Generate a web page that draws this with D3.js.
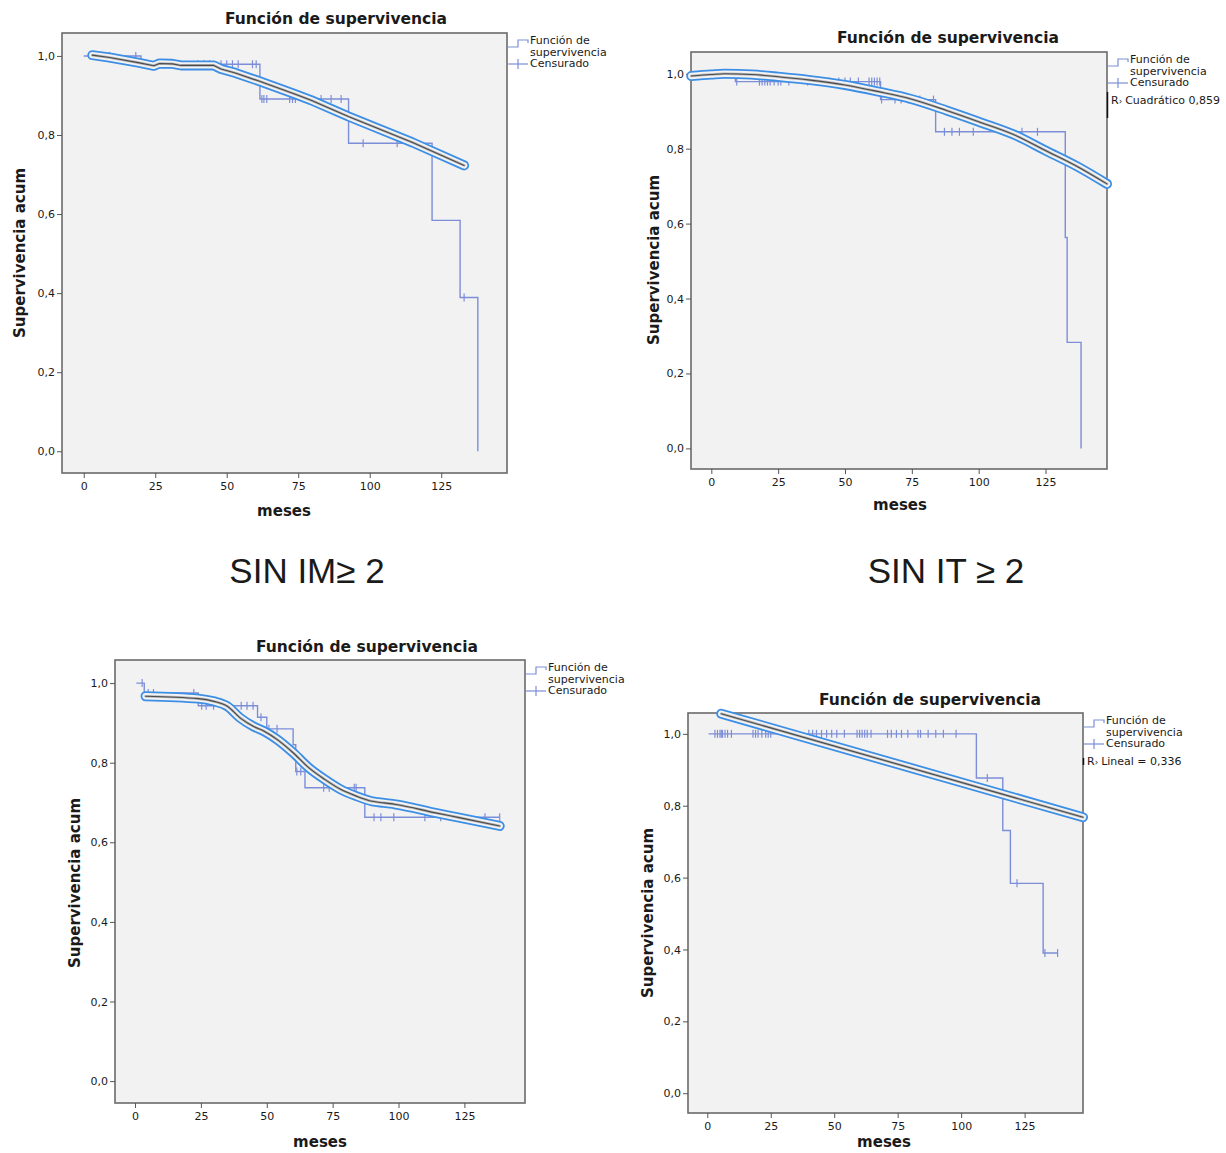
<!DOCTYPE html>
<html>
<head>
<meta charset="utf-8">
<script src="https://cdn.jsdelivr.net/npm/d3@7"></script>
<style>
  body { margin: 0; background: #fff; }
  svg { display: block; }
  text { font-family: 'DejaVu Sans', sans-serif; fill: #1a1a1a; }
</style>
</head>
<body>
<svg id="chart" width="1226" height="1153"></svg>
<script>
// Axis ticks (shared by the four panels)
const X_TICKS = [0, 25, 50, 75, 100, 125];
const Y_TICKS = [0, 0.2, 0.4, 0.6, 0.8, 1.0];

// Panel 1 (arriba izquierda)
const km1Time = [0, 20, 61.6, 92.6, 121.8, 131.6, 137.8];
const km1Surv = [1.0, 0.979, 0.891, 0.779, 0.584, 0.389, 0.0];
const cens1 = [4, 5, 6, 7, 9, 18.2, 28, 30, 40, 42, 44, 48, 50, 52, 54, 59, 60.3,
  62.3, 63, 64, 72, 73, 74, 79.6, 83, 86.5, 90, 97.7, 109.6, 133];
const fit1Time = [3, 9, 19, 24.5, 26.5, 31, 34, 45.5, 48, 53, 61, 74, 79.5, 92.5, 115, 133];
const fit1Surv = [1.002, 0.996, 0.983, 0.975, 0.981, 0.980, 0.976, 0.976, 0.967, 0.957,
  0.937, 0.903, 0.888, 0.847, 0.781, 0.723];

// Panel 2 (arriba derecha)
const km2Time = [0, 9, 63.3, 83.9, 132.4, 133.1, 138.3];
const km2Surv = [1.0, 0.979, 0.931, 0.845, 0.563, 0.283, 0.0];
const cens2 = [3.5, 4.5, 5.5, 6.5, 7.5, 9.5, 18, 19, 20, 21, 22, 23.5, 25, 26, 29, 36, 40,
  44, 47.7, 50, 52, 55, 59, 60, 61, 62, 63, 63.7, 68.7, 71, 73.7, 78, 83.1, 87.2, 90,
  92.8, 98, 116.2, 122];
const fit2Time = [-7.5, 0, 5, 15, 25, 37, 50, 62, 75, 88, 100, 113, 125, 137, 148];
const fit2Surv = [0.994, 0.998, 1.0, 0.998, 0.992, 0.983, 0.970, 0.953, 0.932, 0.902,
  0.872, 0.838, 0.795, 0.752, 0.706];

// Panel 3 (abajo izquierda)
const km3Time = [0.5, 3.5, 24, 46.5, 50, 60, 61, 64.5, 87.2, 138.4];
const km3Surv = [1.0, 0.975, 0.943, 0.914, 0.885, 0.845, 0.778, 0.737, 0.663, 0.663];
const cens3 = [2.7, 5, 7, 22.3, 25.3, 27, 29.8, 40.3, 42.5, 44.8, 47.8, 50.8, 53.9, 61.4,
  62.9, 71.6, 73.7, 83.2, 83.9, 90.7, 93.3, 98.2, 110, 116, 132.8, 138.4];
const fit3Time = [4, 24, 30, 35, 40, 45, 49, 54, 60, 66, 72, 78, 84, 90, 94.5, 99, 114, 123, 138.4];
const fit3Surv = [0.967, 0.961, 0.954, 0.942, 0.912, 0.891, 0.879, 0.858, 0.825, 0.787,
  0.758, 0.733, 0.716, 0.703, 0.699, 0.695, 0.674, 0.662, 0.641];

// Panel 4 (abajo derecha)
const km4Time = [0.5, 106, 116.4, 119.4, 132.3, 138];
const km4Surv = [1.0, 0.877, 0.731, 0.584, 0.39, 0.39];
const cens4 = [3, 4, 5, 5.5, 6, 7, 8, 9.5, 18, 19, 20, 21.5, 23, 24, 25, 40, 41.5, 43, 45,
  47, 49, 51, 54, 59, 60, 61, 62, 63, 64.5, 71, 72.5, 74.5, 76.5, 79, 83, 84, 87, 90, 93,
  98, 110.3, 122, 133, 138];
const fit4Time = [5.5, 148];
const fit4Surv = [1.056, 0.768];

// Style
const X_DOMAIN = [-7.6, 148];
const Y_DOMAIN = [-0.055, 1.058];
const KM_COLOR = '#7d8ed8';
const FRAME_COLOR = '#6a6a6a';
const PLOT_BG = '#f2f2f2';
const fmtY = d => d3.format('.1f')(d).replace('.', ',');

const svg = d3.select('#chart');

const panels = [
  {
    box: { left: 62, right: 507, top: 33, bottom: 473 },
    kmTime: km1Time, kmSurv: km1Surv, cens: cens1,
    fitTime: fit1Time, fitSurv: fit1Surv, curve: d3.curveLinear,
    title: [336, 24], yLabel: [25, 253], xLabel: [284, 516]
  },
  {
    box: { left: 691, right: 1107, top: 52, bottom: 469 },
    kmTime: km2Time, kmSurv: km2Surv, cens: cens2,
    fitTime: fit2Time, fitSurv: fit2Surv, curve: d3.curveMonotoneX,
    title: [948, 43], yLabel: [659, 260], xLabel: [900, 510],
    fitNote: 'Cuadrático 0,859', noteBar: [40, 66]
  },
  {
    box: { left: 115, right: 525, top: 660, bottom: 1103 },
    kmTime: km3Time, kmSurv: km3Surv, cens: cens3,
    fitTime: fit3Time, fitSurv: fit3Surv, curve: d3.curveMonotoneX,
    title: [367, 652], yLabel: [80, 883], xLabel: [320, 1147]
  },
  {
    box: { left: 688, right: 1083, top: 713, bottom: 1113 },
    kmTime: km4Time, kmSurv: km4Surv, cens: cens4,
    fitTime: fit4Time, fitSurv: fit4Surv, curve: d3.curveLinear,
    title: [930, 705], yLabel: [653, 913], xLabel: [884, 1147],
    fitNote: 'Lineal = 0,336', noteBar: [45, 52]
  }
];

panels.forEach(drawPanel);

// Group captions between the rows
svg.append('text')
  .attr('x', 307).attr('y', 583)
  .attr('text-anchor', 'middle')
  .style('font-family', "'Liberation Sans', Arial, sans-serif")
  .style('font-size', '35px')
  .text('SIN IM≥ 2');

svg.append('text')
  .attr('x', 946).attr('y', 583)
  .attr('text-anchor', 'middle')
  .style('font-family', "'Liberation Sans', Arial, sans-serif")
  .style('font-size', '35px')
  .text('SIN IT ≥ 2');

function drawPanel(p) {
  const b = p.box;
  const x = d3.scaleLinear().domain(X_DOMAIN).range([b.left, b.right]);
  const y = d3.scaleLinear().domain(Y_DOMAIN).range([b.bottom, b.top]);
  const g = svg.append('g');

  // Plot frame
  g.append('rect')
    .attr('x', b.left).attr('y', b.top)
    .attr('width', b.right - b.left).attr('height', b.bottom - b.top)
    .attr('fill', PLOT_BG)
    .attr('stroke', FRAME_COLOR)
    .attr('stroke-width', 1.6);

  // Axes
  g.append('g')
    .attr('transform', `translate(${b.left},0)`)
    .call(d3.axisLeft(y).tickValues(Y_TICKS).tickSize(5).tickPadding(2).tickFormat(fmtY))
    .call(a => a.select('.domain').remove())
    .call(a => a.selectAll('.tick line').attr('stroke', '#555'))
    .call(a => a.selectAll('.tick text').style('font-size', '11px').attr('fill', '#222'));

  g.append('g')
    .attr('transform', `translate(0,${b.bottom})`)
    .call(d3.axisBottom(x).tickValues(X_TICKS).tickSize(5).tickPadding(4))
    .call(a => a.select('.domain').remove())
    .call(a => a.selectAll('.tick line').attr('stroke', '#555'))
    .call(a => a.selectAll('.tick text').style('font-size', '11px').attr('fill', '#222'));

  // Kaplan-Meier step line
  const km = p.kmTime.map((t, i) => [t, p.kmSurv[i]]);
  g.append('path')
    .datum(km)
    .attr('d', d3.line().x(d => x(d[0])).y(d => y(d[1])).curve(d3.curveStepAfter))
    .attr('fill', 'none')
    .attr('stroke', KM_COLOR)
    .attr('stroke-width', 1.4);

  // Censored marks sit on the step line
  const survAt = t => {
    let s = p.kmSurv[0];
    p.kmTime.forEach((kt, i) => { if (kt <= t) s = p.kmSurv[i]; });
    return s;
  };
  g.selectAll('.cens')
    .data(p.cens)
    .join('line')
    .attr('class', 'cens')
    .attr('x1', d => x(d)).attr('x2', d => x(d))
    .attr('y1', d => y(survAt(d)) - 4)
    .attr('y2', d => y(survAt(d)) + 4)
    .attr('stroke', KM_COLOR)
    .attr('stroke-width', 1.2);

  // Fitted (selected) line: blue outline, light core, thin dark centre
  const fit = p.fitTime.map((t, i) => [t, p.fitSurv[i]]);
  const fitLine = d3.line().x(d => x(d[0])).y(d => y(d[1])).curve(p.curve);
  [['#3d8fe6', 10], ['#f3f3f3', 6.4], ['#b5b5b5', 2.6], ['#4a4a4a', 1.1]].forEach(([c, w]) => {
    g.append('path')
      .datum(fit)
      .attr('d', fitLine)
      .attr('fill', 'none')
      .attr('stroke', c)
      .attr('stroke-width', w)
      .attr('stroke-linecap', 'round')
      .attr('stroke-linejoin', 'round');
  });

  // Titles
  g.append('text')
    .attr('x', p.title[0]).attr('y', p.title[1])
    .attr('text-anchor', 'middle')
    .style('font-size', '15.5px').style('font-weight', 'bold')
    .text('Función de supervivencia');

  g.append('text')
    .attr('transform', `translate(${p.yLabel[0]},${p.yLabel[1]}) rotate(-90)`)
    .attr('text-anchor', 'middle')
    .style('font-size', '15px').style('font-weight', 'bold')
    .text('Supervivencia acum');

  g.append('text')
    .attr('x', p.xLabel[0]).attr('y', p.xLabel[1])
    .attr('text-anchor', 'middle')
    .style('font-size', '15px').style('font-weight', 'bold')
    .text('meses');

  // Legend
  const lx = b.right + 1;
  g.append('path')
    .attr('d', `M${lx},${b.top + 14}H${lx + 10}V${b.top + 7}H${lx + 20}V${b.top + 10}`)
    .attr('fill', 'none').attr('stroke', KM_COLOR).attr('stroke-width', 1.2);
  g.append('line')
    .attr('x1', lx).attr('x2', lx + 20)
    .attr('y1', b.top + 31).attr('y2', b.top + 31)
    .attr('stroke', KM_COLOR).attr('stroke-width', 1.2);
  g.append('line')
    .attr('x1', lx + 10).attr('x2', lx + 10)
    .attr('y1', b.top + 26).attr('y2', b.top + 36)
    .attr('stroke', KM_COLOR).attr('stroke-width', 1.2);

  ['Función de', 'supervivencia', 'Censurado'].forEach((s, i) => {
    g.append('text')
      .attr('x', lx + 22).attr('y', b.top + 11 + i * 11.5)
      .style('font-size', '11px')
      .text(s);
  });

  if (p.fitNote) {
    g.append('line')
      .attr('x1', b.right + 0.5).attr('x2', b.right + 0.5)
      .attr('y1', b.top + p.noteBar[0]).attr('y2', b.top + p.noteBar[1])
      .attr('stroke', '#111').attr('stroke-width', 1.5);
    const t = g.append('text')
      .attr('x', b.right + 4).attr('y', b.top + 52)
      .style('font-size', '11px');
    t.append('tspan').text('R');
    t.append('tspan').style('font-size', '9px').text('› ');
    t.append('tspan').text(p.fitNote);
  }
}
</script>
</body>
</html>
